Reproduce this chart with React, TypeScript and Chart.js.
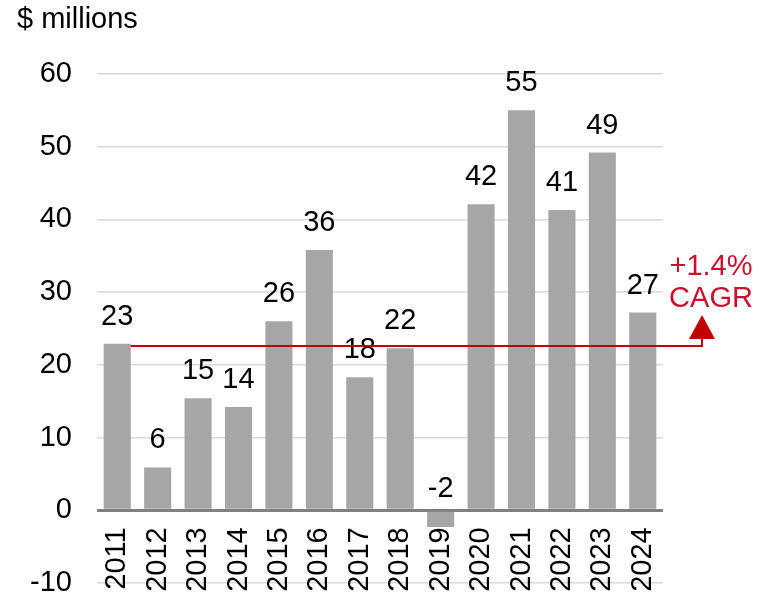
import React, { useEffect, useRef } from "react";
import { Chart, registerables } from "chart.js";

Chart.register(...registerables);

const years = ["2011","2012","2013","2014","2015","2016","2017","2018","2019","2020","2021","2022","2023","2024"];
const values = [22.9, 5.9, 15.4, 14.2, 26.0, 35.8, 18.3, 22.3, -2.3, 42.1, 55.0, 41.3, 49.2, 27.2];
const yTicks = { min: -10, max: 60, step: 10 };
const axisTitle = "$ millions";
const cagrBase = 22.6;
const cagrLines = ["+1.4%", "CAGR"];

const FONT = "'Liberation Sans', Arial, sans-serif";
const FS = 29;

export default function App() {
  const ref = useRef<HTMLCanvasElement | null>(null);
  useEffect(() => {
    const canvas = ref.current;
    if (!canvas) return;
    const overlay = {
      id: "overlay",
      afterDatasetsDraw(chart: any) {
        const ctx = chart.ctx;
        const ys = chart.scales.y;
        const meta = chart.getDatasetMeta(0);
        const area = chart.chartArea;
        ctx.save();
        // data labels
        ctx.font = `${FS}px ${FONT}`;
        ctx.fillStyle = "#000";
        ctx.textAlign = "center";
        ctx.textBaseline = "alphabetic";
        meta.data.forEach((bar: any, i: number) => {
          const v = values[i];
          const y = v >= 0 ? ys.getPixelForValue(v) - 19 : ys.getPixelForValue(0) - 13;
          ctx.fillText(String(Math.round(v)), bar.x, y);
        });
        // CAGR line
        const first: any = meta.data[0];
        const lineY = ys.getPixelForValue(cagrBase);
        const ax = area.right + 39;
        ctx.strokeStyle = "#c00000";
        ctx.lineWidth = 2;
        ctx.beginPath();
        ctx.moveTo(first.x + first.width / 2, lineY);
        ctx.lineTo(ax, lineY);
        ctx.lineTo(ax, lineY - 8);
        ctx.stroke();
        ctx.fillStyle = "#c00000";
        ctx.beginPath();
        ctx.moveTo(ax - 13, lineY - 7);
        ctx.lineTo(ax + 13, lineY - 7);
        ctx.lineTo(ax, lineY - 31);
        ctx.closePath();
        ctx.fill();
        ctx.fillStyle = "#c8102e";
        ctx.font = `${FS}px ${FONT}`;
        ctx.textAlign = "center";
        ctx.fillText(cagrLines[0], ax + 9, lineY - 71);
        ctx.fillText(cagrLines[1], ax + 9, lineY - 39);
        // title
        ctx.fillStyle = "#000";
        ctx.textAlign = "left";
        ctx.fillText(axisTitle, 17, 28);
        ctx.restore();
      },
    };
    const chart = new Chart(canvas, {
      type: "bar",
      data: {
        labels: years,
        datasets: [
          {
            data: values,
            backgroundColor: "#a6a6a6",
            barPercentage: 0.67,
            categoryPercentage: 1,
          },
        ],
      },
      options: {
        responsive: false,
        animation: false,
        layout: { padding: { left: 0, right: 96, top: 74, bottom: 15 } },
        plugins: { legend: { display: false }, tooltip: { enabled: false }, title: { display: false } },
        scales: {
          x: {
            type: "category",
            position: { y: 0 } as any,
            afterFit: (scale: any) => {
              scale.height = 0;
              scale.paddingTop = 0;
              scale.paddingBottom = 0;
              scale.paddingLeft = 0;
              scale.paddingRight = 0;
            },
            grid: { display: false, drawTicks: false },
            border: { display: false },
            ticks: {
              autoSkip: false,
              minRotation: 90,
              maxRotation: 90,
              padding: 17,
              color: "#000",
              font: { family: FONT, size: FS, lineHeight: 1 },
            },
          },
          y: {
            min: yTicks.min,
            max: yTicks.max,
            afterFit: (scale: any) => {
              scale.width = 97;
              scale.paddingTop = 0;
              scale.paddingBottom = 0;
            },
            border: { display: false },
            grid: {
              drawTicks: false,
              color: (c: any) => (c.tick && c.tick.value === 0 ? "#808080" : "#d9d9d9"),
              lineWidth: (c: any) => (c.tick && c.tick.value === 0 ? 3 : 1.5),
            },
            ticks: {
              stepSize: yTicks.step,
              padding: 25,
              color: "#000",
              font: { family: FONT, size: FS, lineHeight: 1 },
            },
          },
        },
      },
      plugins: [overlay],
    });
    return () => chart.destroy();
  }, []);
  return (
    <div style={{ position: "fixed", left: 0, top: 0, width: 759, height: 598, background: "#fff" }}>
      <canvas ref={ref} width={759} height={598} style={{ display: "block" }} />
    </div>
  );
}
